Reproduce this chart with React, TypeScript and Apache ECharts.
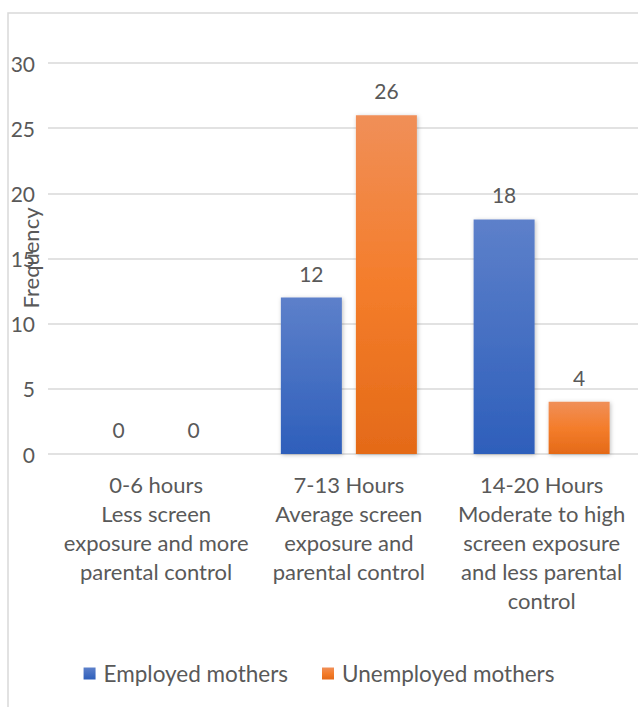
import React, { useEffect, useRef } from "react";
import * as echarts from "echarts";

const categories = [
  "0-6 hours\nLess screen\nexposure and more\nparental control",
  "7-13 Hours\nAverage screen\nexposure and\nparental control",
  "14-20 Hours\nModerate to high\nscreen exposure\nand less parental\ncontrol",
];
const employed = [0, 12, 18];
const unemployed = [0, 26, 4];
const seriesNames = ["Employed mothers", "Unemployed mothers"];
const yTicks = { min: 0, max: 30, interval: 5 };

const FONT = "Lato, 'Noto Sans', sans-serif";
const TXT = "#595959";

export default function App() {
  const ref = useRef<HTMLDivElement>(null);
  useEffect(() => {
    if (!ref.current) return;
    const chart = echarts.init(ref.current, null, { renderer: "svg" });
    const blue = new echarts.graphic.LinearGradient(0, 0, 0, 1, [
      { offset: 0, color: "#5D80CA" },
      { offset: 1, color: "#2E5FBB" },
    ]);
    const orange = new echarts.graphic.LinearGradient(0, 0, 0, 1, [
      { offset: 0, color: "#F08F58" },
      { offset: 0.5, color: "#F47D2B" },
      { offset: 1, color: "#E46A18" },
    ]);
    const shadow = {
      shadowBlur: 4,
      shadowColor: "rgba(0,0,0,0.25)",
      shadowOffsetX: 1,
      shadowOffsetY: 1,
    };
    const label = {
      show: true,
      position: "top" as const,
      distance: 14,
      color: TXT,
      fontSize: 21,
      fontFamily: FONT,
    };
    chart.setOption({
      animation: false,
      textStyle: { fontFamily: FONT },
      grid: [
        { left: 48, right: 0, top: 63, bottom: 253 },
        { left: 59.75, width: 581, top: 63, bottom: 253 },
      ],
      xAxis: [
        { type: "category", gridIndex: 0, data: categories, show: false },
        {
          type: "category",
          gridIndex: 1,
          data: categories,
          axisLine: { show: false },
          axisTick: { show: false },
          axisLabel: {
            color: TXT,
            fontSize: 22,
            lineHeight: 29,
            margin: 16,
            interval: 0,
            fontFamily: FONT,
          },
        },
      ],
      yAxis: [
        {
          type: "value",
          gridIndex: 0,
          ...yTicks,
          axisLine: { show: false },
          axisTick: { show: false },
          splitLine: { lineStyle: { color: "#D9D9D9", width: 1.5 } },
          axisLabel: { color: TXT, fontSize: 21, margin: 13, fontFamily: FONT },
        },
        {
          type: "value",
          gridIndex: 1,
          ...yTicks,
          show: false,
          splitLine: { show: false },
        },
      ],
      legend: {
        data: seriesNames,
        left: "center",
        top: 657,
        itemWidth: 12,
        itemHeight: 12,
        itemGap: 34,
        icon: "rect",
        textStyle: { color: TXT, fontSize: 22.5, fontFamily: FONT, padding: [0, 0, 0, 3] },
      },
      graphic: [
        {
          type: "rect",
          shape: { x: 8, y: 13, width: 700, height: 720 },
          style: { fill: "none", stroke: "#D9D9D9", lineWidth: 1.5 },
          silent: true,
        },
        {
          type: "text",
          x: 30,
          y: 258,
          rotation: Math.PI / 2,
          style: {
            text: "Frequency",
            fill: TXT,
            fontSize: 22,
            fontFamily: FONT,
            align: "center",
            verticalAlign: "middle",
          },
        },
      ],
      series: [
        {
          name: seriesNames[0],
          type: "bar",
          xAxisIndex: 1,
          yAxisIndex: 1,
          data: employed,
          barWidth: 61,
          barGap: "23%",
          itemStyle: { color: blue, ...shadow },
          label,
        },
        {
          name: seriesNames[1],
          type: "bar",
          xAxisIndex: 1,
          yAxisIndex: 1,
          data: unemployed,
          barWidth: 61,
          barGap: "23%",
          itemStyle: { color: orange, ...shadow },
          label,
        },
      ],
    });
    return () => chart.dispose();
  }, []);
  return (
    <div
      ref={ref}
      style={{ position: "fixed", left: 0, top: 0, width: 638, height: 707, background: "#fff" }}
    />
  );
}
